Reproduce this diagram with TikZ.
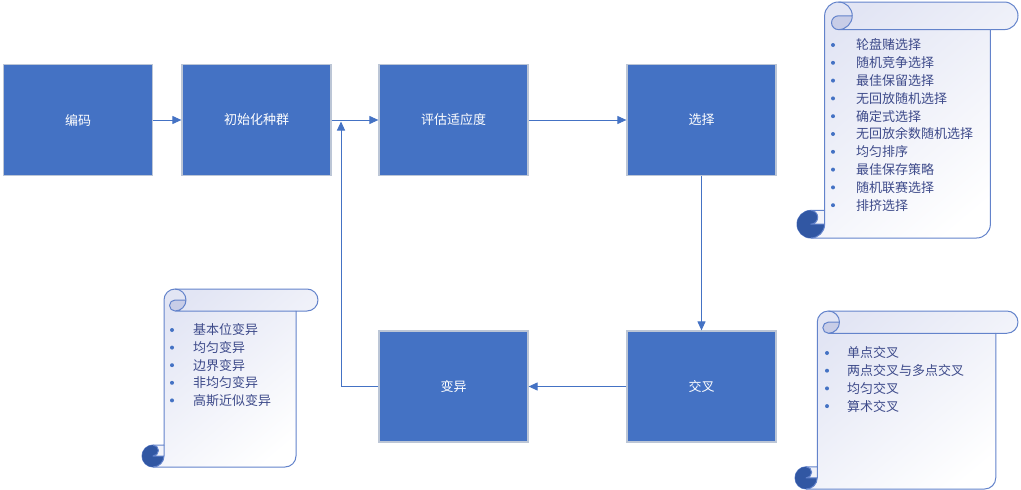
\documentclass[tikz,border=0pt]{standalone}
\usepackage{fontspec}
\newfontfamily\cjk{Noto Sans CJK SC}
\usetikzlibrary{arrows.meta}
\definecolor{boxblue}{HTML}{4472C4}
\definecolor{boxline}{HTML}{BCC6D6}
\definecolor{scrollline}{HTML}{6383CB}
\definecolor{scrolltop}{HTML}{E2E5F4}
\definecolor{curl}{HTML}{C8CDE7}
\definecolor{disc}{HTML}{3157A3}
\definecolor{listtext}{HTML}{3D4A8A}

% vertical scroll, corners l t r b (y grows downwards)
\newcommand\scrollshape[4]{%
  \pgfmathsetmacro\ch{0.125*min(#3-#1,#4-#2)}
  \pgfmathsetmacro\hh{\ch/2}
  \pgfmathsetmacro\hq{\ch/4}
  \shadedraw[top color=scrolltop, middle color=scrolltop!40!white, bottom color=white,
    shading angle=40, draw=scrollline, line width=1pt, line join=round]
    (#1+\ch, #4-\ch) -- (#1+\ch, #2+\hh) arc[start angle=180, end angle=270, radius=\hh]
    -- (#3-\hh, #2) arc[start angle=270, end angle=450, radius=\hh]
    -- (#3-\ch, #2+\ch) -- (#3-\ch, #4-\hh) arc[start angle=0, end angle=90, radius=\hh]
    -- (#1+\hh, #4) arc[start angle=90, end angle=270, radius=\hh] -- cycle;
  \fill[curl] (#1+2*\ch, #2+\hh) arc[start angle=0, end angle=90, radius=\hh]
    arc[start angle=90, end angle=270, radius=\hq] -- cycle;
  \fill[disc] (#1+\ch, #4-\hh) arc[start angle=0, end angle=270, radius=\hh]
    arc[start angle=270, end angle=450, radius=\hq] -- cycle;
  \draw[scrollline, line width=1pt, line join=round]
    (#1+1.5*\ch, #2) arc[start angle=270, end angle=450, radius=\hh]
    arc[start angle=90, end angle=270, radius=\hq] -- (#1+2*\ch, #2+\hh)
    (#3-\ch, #2+\ch) -- (#1+1.5*\ch, #2+\ch)
    (#1+\hh, #4-\ch) arc[start angle=270, end angle=450, radius=\hq] -- (#1+\ch, #4-\hh)
    (#1+\hh, #4) arc[start angle=90, end angle=0, radius=\hh] -- (#1+\ch, #4-\ch);
}

\begin{document}
\begin{tikzpicture}[x=1pt, y=-1pt, >={Triangle[length=9pt,width=8pt]},
    box/.style={rectangle, fill=boxblue, draw=boxline, line width=1.2pt,
      minimum width=149pt, minimum height=111pt, inner sep=0pt,
      text=white, font=\cjk\fontsize{13}{15}\selectfont},
    item/.style={anchor=west, inner sep=0pt, text=listtext,
      font=\cjk\fontsize{13}{15}\selectfont},
    listdot/.style={circle, fill=boxblue, inner sep=0pt, minimum size=4pt},
    link/.style={->, boxblue, line width=1pt}]

  \useasboundingbox (0,0) rectangle (1021,490);

  % scrolls
  \scrollshape{797}{2}{1018}{238}
  \scrollshape{795}{311}{1018}{489}
  \scrollshape{142}{289}{318}{467}

  \foreach \txt [count=\i] in {轮盘赌选择, 随机竞争选择, 最佳保留选择, 无回放随机选择,
      确定式选择, 无回放余数随机选择, 均匀排序, 最佳保存策略, 随机联赛选择, 排挤选择} {
    \node[listdot] (seldot\i) at (833, {45+17.8*(\i-1)}) {};
    \node[item] (selitem\i) at (856, {45+17.8*(\i-1)}) {\txt};
  }
  \foreach \txt [count=\i] in {单点交叉, 两点交叉与多点交叉, 均匀交叉, 算术交叉} {
    \node[listdot] (crossdot\i) at (827, {353+17.7*(\i-1)}) {};
    \node[item] (crossitem\i) at (847, {353+17.7*(\i-1)}) {\txt};
  }
  \foreach \txt [count=\i] in {基本位变异, 均匀变异, 边界变异, 非均匀变异, 高斯近似变异} {
    \node[listdot] (mutdot\i) at (172, {330+17.6*(\i-1)}) {};
    \node[item] (mutitem\i) at (193, {330+17.6*(\i-1)}) {\txt};
  }

  % flow
  \node[box] (enc) at (78, 120) {编码};
  \node[box] (init) at (256.5, 120) {初始化种群};
  \node[box] (eval) at (453.5, 120) {评估适应度};
  \node[box] (sel) at (701.5, 120) {选择};
  \node[box] (cross) at (701.5, 386.5) {交叉};
  \node[box] (mut) at (453.5, 386.5) {变异};
  \coordinate (back) at (341, 121.5);

  \draw[link] (enc) -- (init);
  \draw[link] (init) -- (eval);
  \draw[link] (eval) -- (sel);
  \draw[link] (sel) -- (cross);
  \draw[link] (cross) -- (mut);
  \draw[link] (mut.west) -| (back);
\end{tikzpicture}
\end{document}
